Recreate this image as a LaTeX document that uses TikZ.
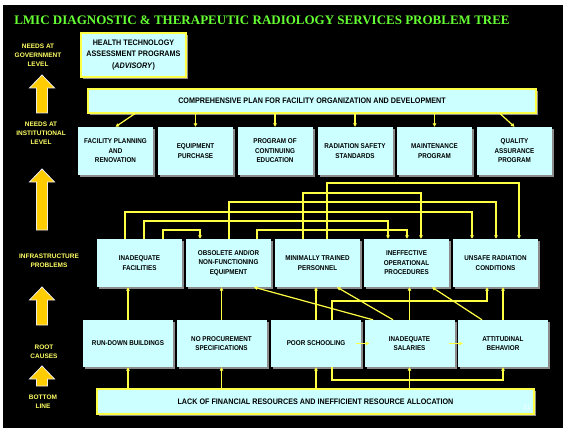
\documentclass[tikz,border=0pt]{standalone}
\usepackage{fontspec}
\setmainfont{Liberation Serif}
\newfontfamily\boxfont{Liberation Sans}[FakeStretch=0.9]
\newfontfamily\tagfont{Liberation Sans}
\usetikzlibrary{arrows.meta,shadows}
\definecolor{boxcyan}{HTML}{CCFFFF}
\definecolor{lineyellow}{HTML}{FFFF44}
\definecolor{tagyellow}{HTML}{FFFF66}
\definecolor{titlegreen}{HTML}{66FF33}
\definecolor{arrowgold}{HTML}{FFCC00}
\tikzset{
	prob/.style={fill=boxcyan, draw=none, align=center, inner sep=1pt,
		font=\boxfont\bfseries\fontsize{7}{9.5}\selectfont,
		drop shadow={shadow xshift=2pt, shadow yshift=-2pt, fill=black!45, opacity=1}},
	need/.style={prob, minimum width=75pt, minimum height=48pt},
	infra/.style={prob, minimum width=85pt, minimum height=48pt},
	root/.style={prob, minimum width=90pt, minimum height=47pt},
	goal/.style={prob, draw=lineyellow, line width=1.2pt, font=\boxfont\bfseries\fontsize{8}{11.5}\selectfont},
	tag/.style={text=tagyellow, align=center, font=\tagfont\bfseries\fontsize{6.5}{9}\selectfont},
	link/.style={draw=lineyellow, line width=1.2pt, -{Triangle[length=3.5pt,width=3.5pt]}}
}
\def\bigarrow(#1,#2,#3){\filldraw[fill=arrowgold, draw=white!85!gray, line width=0.8pt]
	(#1,#2) -- ({#1+12.5},{#2+13}) -- ({#1+5.5},{#2+13}) -- ({#1+5.5},#3)
	-- ({#1-5.5},#3) -- ({#1-5.5},{#2+13}) -- ({#1-12.5},{#2+13}) -- cycle;}

\begin{document}
\begin{tikzpicture}[x=1pt, y=-1pt]
	%%%%% START %%%%%
	
	\useasboundingbox (0,0) rectangle (563,428);
	\fill[white] (0,0) rectangle (563,428);
	\fill[black] (3,5) rectangle (563,428);
	
	\node[text=titlegreen, font=\bfseries\fontsize{13}{15}\selectfont] (title) at (262,20) {LMIC DIAGNOSTIC \& THERAPEUTIC RADIOLOGY SERVICES PROBLEM TREE};
	
	% levels on the left
	\node[tag] (govtag) at (38,55) {NEEDS AT\\GOVERNMENT\\LEVEL};
	\node[tag] (insttag) at (41,133) {NEEDS AT\\INSTITUTIONAL\\LEVEL};
	\node[tag] (infratag) at (49,260.5) {INFRASTRUCTURE\\PROBLEMS};
	\node[tag] (roottag) at (44,351.5) {ROOT\\CAUSES};
	\node[tag] (bottomtag) at (43,401.5) {BOTTOM\\LINE};
	
	\bigarrow(42,75,113)
	\bigarrow(42,169,230)
	\bigarrow(42,287,325)
	\bigarrow(42,366,386)
	
	% needs
	\node[goal, minimum width=105pt, minimum height=44pt] (hta) at (133.5,55) {HEALTH TECHNOLOGY\\ASSESSMENT PROGRAMS\\(\textit{ADVISORY})};
	\node[goal, minimum width=448pt, minimum height=24pt] (plan) at (312,101) {COMPREHENSIVE PLAN FOR FACILITY ORGANIZATION AND DEVELOPMENT};
	
	\node[need] (fpr) at (115.5,151) {FACILITY PLANNING\\AND\\RENOVATION};
	\node[need] (eqp) at (195.5,151) {EQUIPMENT\\PURCHASE};
	\node[need] (pce) at (275,151) {PROGRAM OF\\CONTINUING\\EDUCATION};
	\node[need] (rss) at (355,151) {RADIATION SAFETY\\STANDARDS};
	\node[need] (mnt) at (434.5,151) {MAINTENANCE\\PROGRAM};
	\node[need] (qap) at (514.5,151) {QUALITY\\ASSURANCE\\PROGRAM};
	
	% infrastructure
	\node[infra] (fac) at (139.5,263) {INADEQUATE\\FACILITIES};
	\node[infra] (obs) at (228.5,263) {OBSOLETE AND/OR\\NON-FUNCTIONING\\EQUIPMENT};
	\node[infra] (mtp) at (317.5,263) {MINIMALLY TRAINED\\PERSONNEL};
	\node[infra] (iop) at (406.5,263) {INEFFECTIVE\\OPERATIONAL\\PROCEDURES};
	\node[infra] (urc) at (495.5,263) {UNSAFE RADIATION\\CONDITIONS};
	
	% root causes
	\node[root] (rdb) at (128,343.5) {RUN-DOWN BUILDINGS};
	\node[root] (nps) at (221.5,343.5) {NO PROCUREMENT\\SPECIFICATIONS};
	\node[root] (psc) at (316,343.5) {POOR SCHOOLING};
	\node[root] (ins) at (409.5,343.5) {INADEQUATE\\SALARIES};
	\node[root] (att) at (503,343.5) {ATTITUDINAL\\BEHAVIOR};
	
	\node[goal, minimum width=437pt, minimum height=25pt] (bot) at (315.5,401.5) {LACK OF FINANCIAL RESOURCES AND INEFFICIENT RESOURCE ALLOCATION};
	\node[text=white, font=\tagfont\fontsize{6}{7}\selectfont] (pageno) at (527,407) {21};
	
	% plan to needs
	\draw[link] (plan.south -| 135,0) -- (fpr.north);
	\foreach \b in {eqp,pce,rss,mnt}
		\draw[link] (plan.south -| \b.north) -- (\b.north);
	\draw[link] (plan.south -| 500,0) -- (qap.north);
	
	% between infrastructure problems
	\draw[link] (mtp.north -| 327,0) -- (327,183) -| (urc.north -| 519,0);
	\draw[link] (mtp.north -| 303,0) -- (303,193) -| (iop.north -| 421,0);
	\draw[link] (obs.north -| 229,0) -- (229,202) -| (urc.north -| 496,0);
	\draw[link] (fac.north -| 125,0) -- (125,212) -| (urc.north -| 472,0);
	\draw[link] (fac.north -| 144,0) -- (144,221) -| (iop.north -| 388,0);
	\draw[link] (fac.north -| 163,0) -- (163,230) -| (obs.north -| 200,0);
	\draw[link] (obs.north -| 257,0) -- (257,230) -| (iop.north -| 407,0);
	
	% root causes to infrastructure
	\foreach \a/\b in {rdb/fac,nps/obs,psc/mtp,ins/iop,att/urc}
		\draw[link] (\a.north) -- (\a.north |- \b.south);
	\draw[link] (ins.north -| 393,0) -- (mtp.south -| 337,0);
	\draw[link] (ins.north -| 373,0) -- (obs.south -| 254,0);
	\draw[link] (att.north -| 482,0) -- (iop.south -| 432,0);
	\draw[link] (psc.north -| 332,0) -- (332,301) -| (urc.south -| 487,0);
	
	% between root causes
	\draw[link] ([xshift=-5pt]psc.east) -- ([xshift=5pt]ins.west);
	\draw[link] ([xshift=-6pt]ins.east) -- ([xshift=5pt]att.west);
	\draw[link] (psc.south -| 332,0) -- (332,380) -| (att.south);
	
	% bottom line to root causes
	\foreach \b in {rdb,nps,psc,ins}
		\draw[link] (bot.north -| \b.south) -- (\b.south);
	
	%%%%% END %%%%%
\end{tikzpicture}
\end{document}
